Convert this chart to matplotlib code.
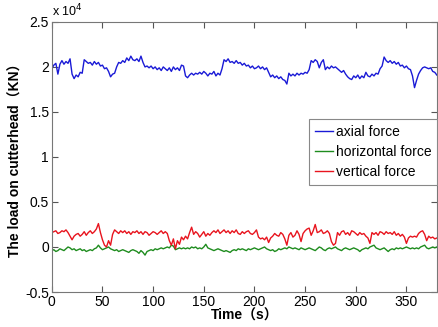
import matplotlib
matplotlib.use("Agg")
import matplotlib.pyplot as plt
from matplotlib.ticker import FormatStrFormatter

plt.rcParams['font.family'] = ['Liberation Sans', 'Noto Sans CJK SC', 'DejaVu Sans']

# Sample times (s), one reading every 2 s
time_s = list(range(0, 381, 2))

# Loads in units of 10^4 kN
axial = [1.98, 2.02, 2.04, 1.92, 2.03, 2.07, 2.03, 2.06, 2.04, 2.09,
         1.92, 1.87, 1.91, 1.89, 1.94, 1.93, 2.08, 2.06, 2.04, 2.05,
         2.02, 2.06, 2.03, 2.05, 2.01, 2.02, 1.98, 1.99, 1.95, 1.89,
         1.92, 1.93, 2.00, 2.05, 2.04, 2.07, 2.05, 2.10, 2.07, 2.12,
         2.08, 2.07, 2.09, 2.06, 2.12, 2.05, 2.00, 2.01, 1.99, 2.01,
         1.98, 2.00, 1.97, 1.99, 1.96, 2.00, 1.98, 1.96, 1.99, 1.95,
         2.00, 1.97, 1.99, 1.96, 2.02, 2.01, 1.90, 1.88, 1.91, 1.93,
         1.91, 1.93, 1.92, 1.94, 1.92, 1.95, 1.93, 1.90, 1.93, 1.92,
         1.95, 1.90, 1.93, 1.91, 1.98, 2.08, 2.06, 2.09, 2.05, 2.06,
         2.04, 2.07, 2.04, 2.05, 2.02, 2.04, 2.01, 2.02, 1.99, 2.01,
         1.98, 1.99, 2.01, 1.98, 2.00, 1.97, 1.99, 1.94, 1.89, 1.91,
         1.88, 1.90, 1.87, 1.89, 1.86, 1.85, 1.81, 1.93, 1.90, 1.92,
         1.90, 1.93, 1.91, 1.93, 1.92, 1.94, 1.93, 1.97, 2.07, 2.05,
         2.08, 2.06, 1.99, 2.05, 2.08, 1.97, 2.00, 1.98, 2.01, 1.99,
         2.00, 1.98, 1.96, 1.94, 1.96, 1.92, 1.89, 1.87, 1.86, 1.90,
         1.88, 1.91, 1.87, 1.90, 1.88, 1.94, 1.90, 1.89, 1.92, 1.90,
         1.93, 1.92, 1.98, 2.01, 2.11, 2.07, 2.05, 2.07, 2.04, 2.06,
         2.03, 2.05, 2.01, 2.02, 1.99, 2.01, 1.98, 1.97, 1.90, 1.77,
         1.85, 1.92, 1.96, 1.99, 2.00, 1.99, 1.98, 1.99, 1.95, 1.94,
         1.91]

vertical = [0.16, 0.17, 0.18, 0.15, 0.16, 0.18, 0.17, 0.19, 0.16, 0.12,
            0.08, 0.12, 0.14, 0.15, 0.12, 0.14, 0.17, 0.13, 0.16, 0.18,
            0.15, 0.17, 0.20, 0.26, 0.16, 0.08, 0.02, 0.00, 0.07, 0.02,
            0.14, 0.19, 0.17, 0.15, 0.18, 0.16, 0.18, 0.15, 0.17, 0.14,
            0.17, 0.16, 0.18, 0.15, 0.17, 0.14, 0.17, 0.16, 0.13, 0.15,
            0.17, 0.16, 0.14, 0.16, 0.18, 0.15, 0.17, 0.15, 0.07, 0.02,
            0.09, -0.02, 0.07, 0.03, 0.11, 0.08, 0.12, 0.09, 0.16, 0.22,
            0.14, 0.17, 0.15, 0.11, 0.14, 0.17, 0.12, 0.15, 0.13, 0.16,
            0.18, 0.16, 0.19, 0.15, 0.17, 0.19, 0.16, 0.18, 0.15, 0.18,
            0.16, 0.19, 0.15, 0.14, 0.17, 0.15, 0.17, 0.18, 0.15, 0.14,
            0.16, 0.19, 0.11, 0.09, 0.10, 0.08, 0.11, 0.05, 0.10, 0.12,
            0.15, 0.13, 0.12, 0.16, 0.14, 0.09, 0.02, 0.13, 0.16, 0.11,
            0.13, 0.18, 0.14, 0.06, 0.15, 0.18, 0.20, 0.21, 0.13, 0.18,
            0.25, 0.16, 0.17, 0.19, 0.15, 0.16, 0.18, 0.15, 0.06, 0.02,
            0.04, 0.16, 0.13, 0.17, 0.18, 0.14, 0.16, 0.13, 0.18, 0.17,
            0.15, 0.13, 0.16, 0.14, 0.15, 0.12, 0.10, 0.04, 0.16, 0.14,
            0.16, 0.13, 0.17, 0.16, 0.14, 0.17, 0.15, 0.16, 0.14, 0.17,
            0.13, 0.15, 0.12, 0.14, 0.11, 0.04, 0.10, 0.12, 0.11, 0.12,
            0.11, 0.15, 0.17, 0.18, 0.14, 0.07, 0.12, 0.10, 0.11, 0.09,
            0.10]

horizontal = [-0.04, -0.03, -0.05, -0.04, -0.02, -0.03, -0.04, -0.02, 0.00, -0.01,
              -0.03, -0.02, -0.04, -0.03, -0.02, -0.04, -0.03, -0.05, -0.04, -0.03,
              -0.04, -0.02, -0.01, 0.02, -0.01, -0.03, -0.02, -0.01, 0.00, -0.02,
              -0.03, -0.04, -0.03, -0.05, -0.04, -0.03, -0.04, -0.05, -0.06, -0.04,
              -0.03, -0.04, -0.05, -0.07, -0.04, -0.06, -0.09, -0.05, -0.04, -0.03,
              -0.04, -0.02, -0.03, -0.02, -0.01, -0.02, -0.01, 0.00, -0.01, 0.02,
              0.01, -0.03, -0.02, -0.01, -0.02, -0.01, -0.02, -0.01, -0.02, 0.00,
              -0.01, 0.00, -0.02, -0.01, -0.02, 0.00, 0.03, -0.01, -0.02, -0.03,
              -0.04, -0.03, -0.02, -0.03, -0.04, -0.05, -0.04, -0.05, -0.06, -0.04,
              -0.03, -0.04, -0.02, -0.03, -0.02, -0.03, -0.04, -0.02, -0.03, -0.02,
              -0.01, -0.02, -0.03, -0.02, -0.01, 0.00, -0.02, -0.03, -0.04, -0.03,
              -0.05, -0.04, -0.02, -0.03, -0.02, -0.01, -0.02, 0.00, -0.01, -0.02,
              -0.01, -0.02, -0.03, -0.01, -0.02, -0.03, -0.02, -0.01, -0.02, -0.03,
              -0.04, -0.02, 0.00, -0.01, -0.03, -0.04, -0.02, -0.01, -0.02, -0.01,
              0.00, -0.02, -0.03, -0.04, -0.02, -0.01, -0.02, -0.03, -0.02, -0.01,
              -0.02, -0.03, -0.05, -0.03, -0.02, -0.01, -0.02, 0.00, 0.01, 0.02,
              -0.01, -0.02, -0.03, -0.02, -0.01, -0.03, -0.05, -0.03, -0.02, -0.03,
              -0.01, -0.02, -0.01, -0.02, -0.01, 0.00, -0.01, -0.02, -0.01, -0.02,
              -0.01, -0.02, 0.00, 0.01, 0.02, -0.01, -0.02, -0.01, 0.00, -0.01,
              0.00]

x_ticks = [0, 50, 100, 150, 200, 250, 300, 350]
y_ticks = [-0.5, 0, 0.5, 1, 1.5, 2, 2.5]

fig = plt.figure(figsize=(4.39, 3.27), dpi=100)
ax = fig.add_axes([0.118, 0.107, 0.877, 0.826])

ax.plot(time_s, axial, color='#1a1ad6', lw=1.0, label='axial force')
ax.plot(time_s, horizontal, color='#1e8c1e', lw=1.0, label='horizontal force')
ax.plot(time_s, vertical, color='#e8141e', lw=1.0, label='vertical force')

ax.set_xlim(0, 380)
ax.set_ylim(-0.5, 2.5)
ax.set_xticks(x_ticks)
ax.set_yticks(y_ticks)
ax.yaxis.set_major_formatter(FormatStrFormatter('%g'))
ax.tick_params(direction='in', top=True, right=True, length=4, width=0.8,
               color='#555555', labelsize=10, pad=2)
for s in ax.spines.values():
    s.set_color('#777777')
    s.set_linewidth(0.8)

ax.set_xlabel('Time（s）', fontsize=10, fontweight='bold', labelpad=0)
ax.set_ylabel('The load on cutterhead（KN）', fontsize=10, fontweight='bold', labelpad=2)
ax.text(0.0, 1.01, r'x 10$^4$', transform=ax.transAxes, fontsize=9, ha='left', va='bottom')

leg = ax.legend(loc='upper right', bbox_to_anchor=(1.0, 0.64), borderaxespad=0.0,
                fancybox=False, edgecolor='#888888', fontsize=10, handlelength=1.3,
                handletextpad=0.2, labelspacing=0.45, borderpad=0.4, framealpha=1)
leg.get_frame().set_linewidth(0.8)

fig.savefig('out.png', dpi=100)
